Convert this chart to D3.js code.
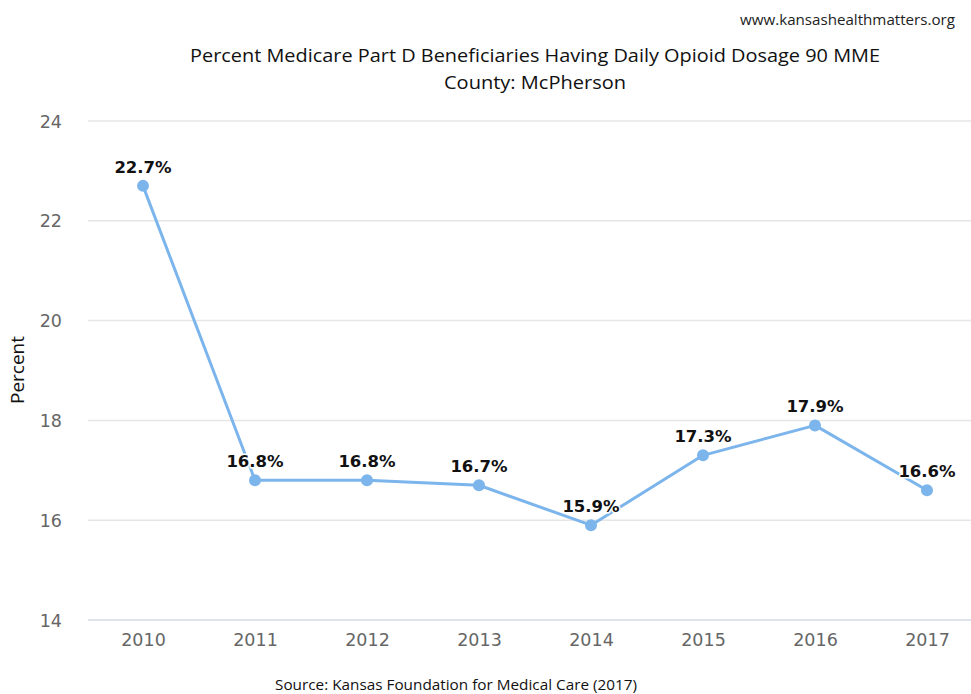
<!DOCTYPE html>
<html><head><meta charset="utf-8">
<script src="https://cdn.jsdelivr.net/npm/d3@7"></script>
<style>body{margin:0;background:#fff}svg{display:block}</style>
</head><body>
<svg id="c" width="971" height="694"></svg>
<script>
const years = ["2010","2011","2012","2013","2014","2015","2016","2017"];
const values = [22.7,16.8,16.8,16.7,15.9,17.3,17.9,16.6];
const yTicks = [14,16,18,20,22,24];
const titleLines = ["Percent Medicare Part D Beneficiaries Having Daily Opioid Dosage 90 MME","County: McPherson"];
const sourceText = "Source: Kansas Foundation for Medical Care (2017)";
const siteText = "www.kansashealthmatters.org";
const yLabel = "Percent";

const svg = d3.select("#c");
const W = 971, H = 694;
const x = d3.scalePoint().domain(years).range([87, 983]).padding(0.5);
const y = d3.scaleLinear().domain([14,24]).range([620,121]);
const font = "'Open Sans', sans-serif";
const tickFont = "'DejaVu Sans', sans-serif";

// grid
svg.append("g").selectAll("line").data(yTicks).join("line")
  .attr("x1",88).attr("x2",W).attr("y1",d=>y(d)).attr("y2",d=>y(d))
  .attr("stroke",d=>d===14?"#d4dbe6":"#e6e6e6").attr("stroke-width",1.5);

// y axis labels
const yAxis = svg.append("g").attr("transform","translate(62,0)")
  .call(d3.axisLeft(y).tickValues(yTicks).tickSize(0).tickPadding(0));
yAxis.select(".domain").remove();
yAxis.selectAll("text").attr("font-family",tickFont).attr("font-size",17.5).attr("fill","#666").attr("dy","0.35em");

// x axis labels
const xAxis = svg.append("g").attr("transform","translate(0,634)")
  .call(d3.axisBottom(x).tickSize(0).tickPadding(0));
xAxis.select(".domain").remove();
xAxis.selectAll("text").attr("font-family",tickFont).attr("font-size",17.5).attr("fill","#666").attr("dy","0.71em");

// line
const line = d3.line().x((d,i)=>x(years[i])).y(d=>y(d));
svg.append("path").datum(values).attr("d",line).attr("fill","none")
  .attr("stroke","#7cb5ec").attr("stroke-width",3).attr("stroke-linejoin","round");
svg.append("g").selectAll("circle").data(values).join("circle")
  .attr("cx",(d,i)=>x(years[i])).attr("cy",d=>y(d)).attr("r",6).attr("fill","#7cb5ec");

// data labels
svg.append("g").selectAll("text").data(values).join("text")
  .attr("x",(d,i)=>x(years[i])).attr("y",d=>y(d)-13)
  .attr("text-anchor","middle").attr("font-family","'DejaVu Sans', sans-serif")
  .attr("font-weight","bold").attr("font-size",16.5).attr("fill","#111")
  .attr("stroke","#fff").attr("stroke-width",3).attr("paint-order","stroke")
  .text(d=>d.toFixed(1)+"%");

// title
svg.append("text").attr("x",535).attr("y",62).attr("text-anchor","middle")
  .attr("font-family",font).attr("font-size",18).attr("fill","#111")
  .attr("textLength",690).attr("lengthAdjust","spacingAndGlyphs").text(titleLines[0]);
svg.append("text").attr("x",535).attr("y",89).attr("text-anchor","middle")
  .attr("font-family",font).attr("font-size",18).attr("fill","#111")
  .attr("textLength",182).attr("lengthAdjust","spacingAndGlyphs").text(titleLines[1]);

// site
svg.append("text").attr("x",955).attr("y",25).attr("text-anchor","end")
  .attr("font-family",font).attr("font-size",15).attr("fill","#222")
  .attr("textLength",215).attr("lengthAdjust","spacingAndGlyphs").text(siteText);

// y label
svg.append("text").attr("transform","translate(24,370) rotate(-90)").attr("text-anchor","middle")
  .attr("font-family",font).attr("font-size",19).attr("fill","#111").text(yLabel);

// source
svg.append("text").attr("x",456).attr("y",690).attr("text-anchor","middle")
  .attr("font-family",font).attr("font-size",15).attr("fill","#111")
  .attr("textLength",362).attr("lengthAdjust","spacingAndGlyphs").text(sourceText);
</script>
</body></html>
